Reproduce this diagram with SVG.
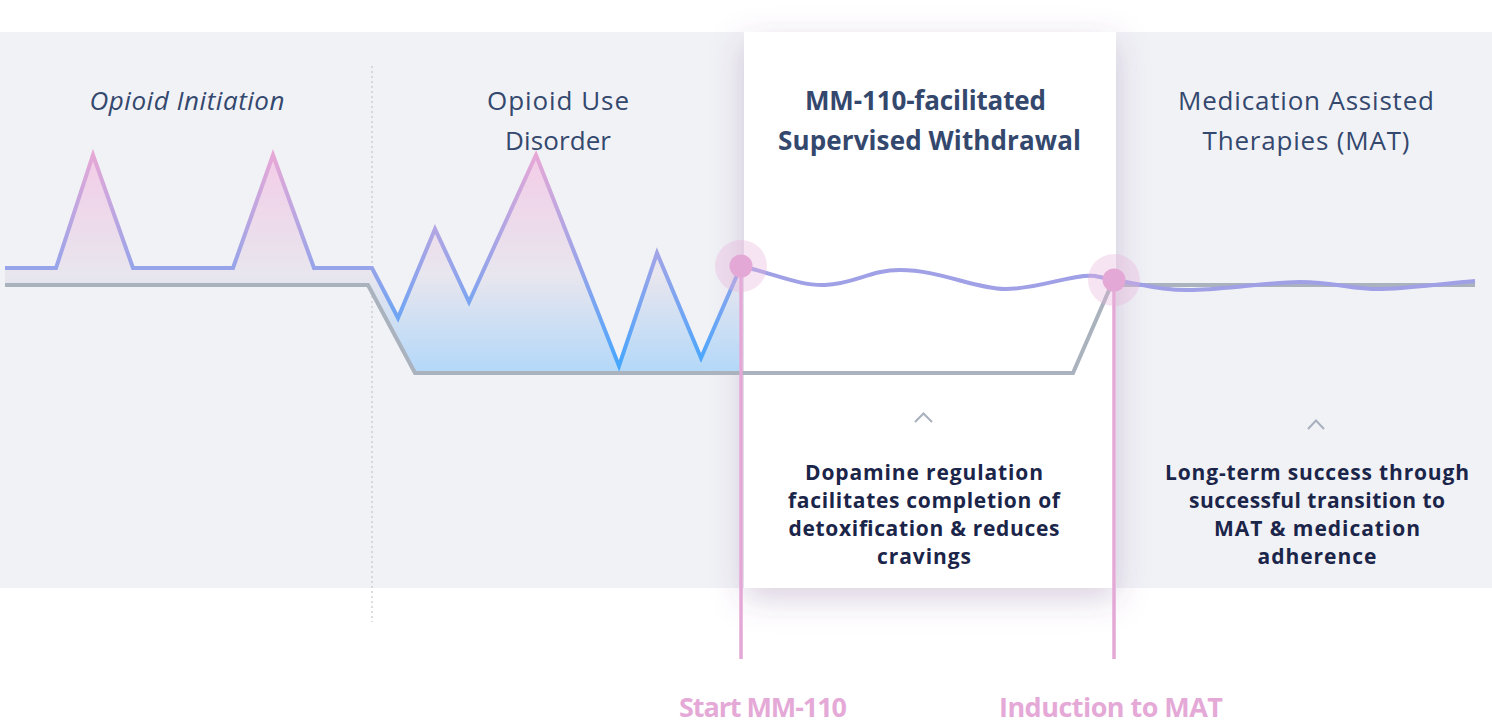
<svg xmlns="http://www.w3.org/2000/svg" width="1492" height="725" viewBox="0 0 1492 725">
<defs>
<style>
.head{font-family:"Open Sans",Lato,"Liberation Sans",sans-serif;font-size:26px;fill:#34486e;text-anchor:middle}
.body{font-family:"Open Sans",Lato,"Liberation Sans",sans-serif;font-size:21px;font-weight:700;fill:#1b2549;text-anchor:middle}
.mark{font-family:"Open Sans",Lato,"Liberation Sans",sans-serif;font-size:27px;font-weight:700;fill:#e5a9d7;text-anchor:middle}
.chev{fill:none;stroke:#a8b0bd;stroke-width:2}
.stem{stroke:#e4a8d6;stroke-width:3.5;fill:none}
.halo{fill:#e9b3d9;opacity:0.35}
.dot{fill:#e4a8d6}
</style>
<linearGradient id="areaGrad" gradientUnits="userSpaceOnUse" x1="0" y1="155" x2="0" y2="373">
<stop offset="0" stop-color="#f3cce7"/>
<stop offset="0.55" stop-color="#e8e6ee"/>
<stop offset="1" stop-color="#b3d8f9"/>
</linearGradient>
<linearGradient id="lineGrad" gradientUnits="userSpaceOnUse" x1="0" y1="153" x2="0" y2="367">
<stop offset="0" stop-color="#e8a8d6"/>
<stop offset="0.55" stop-color="#95a4ea"/>
<stop offset="1" stop-color="#45a7ff"/>
</linearGradient>
<filter id="cardShadow" x="-20%" y="-20%" width="140%" height="140%">
<feDropShadow dx="0" dy="10" stdDeviation="16" flood-color="#6e4a86" flood-opacity="0.26"/>
</filter>
</defs>

<g id="band">
<rect x="0" y="32" width="1492" height="556" fill="#f1f2f6"/>
<line x1="372" y1="66" x2="372" y2="622" stroke="#c3c6cc" stroke-width="1.2" stroke-dasharray="2,3"/>
</g>

<g id="card-withdrawal">
<rect x="744" y="32" width="372" height="556" fill="#ffffff" filter="url(#cardShadow)"/>
</g>

<g id="phase-initiation">
<text class="head" x="187" y="110" font-style="italic" textLength="195" lengthAdjust="spacing">Opioid Initiation</text>
</g>
<g id="phase-oud">
<text class="head" x="558" y="110" textLength="142" lengthAdjust="spacing">Opioid Use</text>
<text class="head" x="558" y="150" textLength="106" lengthAdjust="spacing">Disorder</text>
</g>
<g id="phase-withdrawal">
<text class="head" x="925.5" y="110" font-weight="700" textLength="241" lengthAdjust="spacing">MM-110-facilitated</text>
<text class="head" x="929.5" y="150" font-weight="700" textLength="303" lengthAdjust="spacing">Supervised Withdrawal</text>
<path class="chev" d="M915,422 L923.5,413.5 L932,422"/>
<text class="body" x="924" y="480" textLength="238" lengthAdjust="spacing">Dopamine regulation</text>
<text class="body" x="924" y="508" textLength="272" lengthAdjust="spacing">facilitates completion of</text>
<text class="body" x="924" y="536" textLength="271" lengthAdjust="spacing">detoxification &amp; reduces</text>
<text class="body" x="924" y="564" textLength="94" lengthAdjust="spacing">cravings</text>
</g>
<g id="phase-mat">
<text class="head" x="1306" y="110" textLength="256" lengthAdjust="spacing">Medication Assisted</text>
<text class="head" x="1306" y="150" textLength="207" lengthAdjust="spacing">Therapies (MAT)</text>
<path class="chev" d="M1308,429 L1316,420.5 L1324,429"/>
<text class="body" x="1317" y="480" textLength="304" lengthAdjust="spacing">Long-term success through</text>
<text class="body" x="1317" y="508" textLength="256" lengthAdjust="spacing">successful transition to</text>
<text class="body" x="1317" y="536" textLength="206" lengthAdjust="spacing">MAT &amp; medication</text>
<text class="body" x="1317" y="564" textLength="119" lengthAdjust="spacing">adherence</text>
</g>

<g id="curves">
<path d="M5,268 L56,268 L93,155 L133,268 L233,268 L273,155 L314,268 L372,268 L398,318 L435,229 L469,302 L536,155 L619,366 L657,253 L701,358 L741,266 L741,373 L415,373 L368,285 L5,285 Z" fill="url(#areaGrad)"/>
<path d="M5,285 L368,285 L415,373 L1073,373 L1113,281" fill="none" stroke="#aab2be" stroke-width="4" stroke-linejoin="miter"/>
<path d="M1113,285 L1475,285" fill="none" stroke="#aab2be" stroke-width="4"/>
<path d="M5,268 L56,268 L93,155 L133,268 L233,268 L273,155 L314,268 L372,268 L398,318 L435,229 L469,302 L536,155 L619,366 L657,253 L701,358 L741,266" fill="none" stroke="url(#lineGrad)" stroke-width="4" stroke-linejoin="miter"/>
<path d="M741,266 C775,274 800,286 825,285 C855,284 870,270 900,270 C940,270 975,289 1005,289 C1040,289 1070,274 1095,276 L1114,280 C1140,284 1165,291 1193,290 C1230,289 1270,282 1300,282 C1335,282 1355,290 1382,289 C1415,288 1450,283 1475,281" fill="none" stroke="#a0a0e6" stroke-width="4"/>
</g>

<g id="connectors">
<line class="stem" x1="741" y1="266" x2="741" y2="659"/>
<line class="stem" x1="1114" y1="280" x2="1114" y2="659"/>
</g>

<g id="marker-start">
<circle class="halo" cx="741" cy="266" r="26"/>
<circle class="dot" cx="741" cy="266" r="11.5"/>
<text class="mark" x="763" y="717" textLength="168" lengthAdjust="spacing">Start MM-110</text>
</g>
<g id="marker-induction">
<circle class="halo" cx="1114" cy="280" r="26"/>
<circle class="dot" cx="1114" cy="280" r="11.5"/>
<text class="mark" x="1111" y="717" textLength="224" lengthAdjust="spacing">Induction to MAT</text>
</g>
</svg>
